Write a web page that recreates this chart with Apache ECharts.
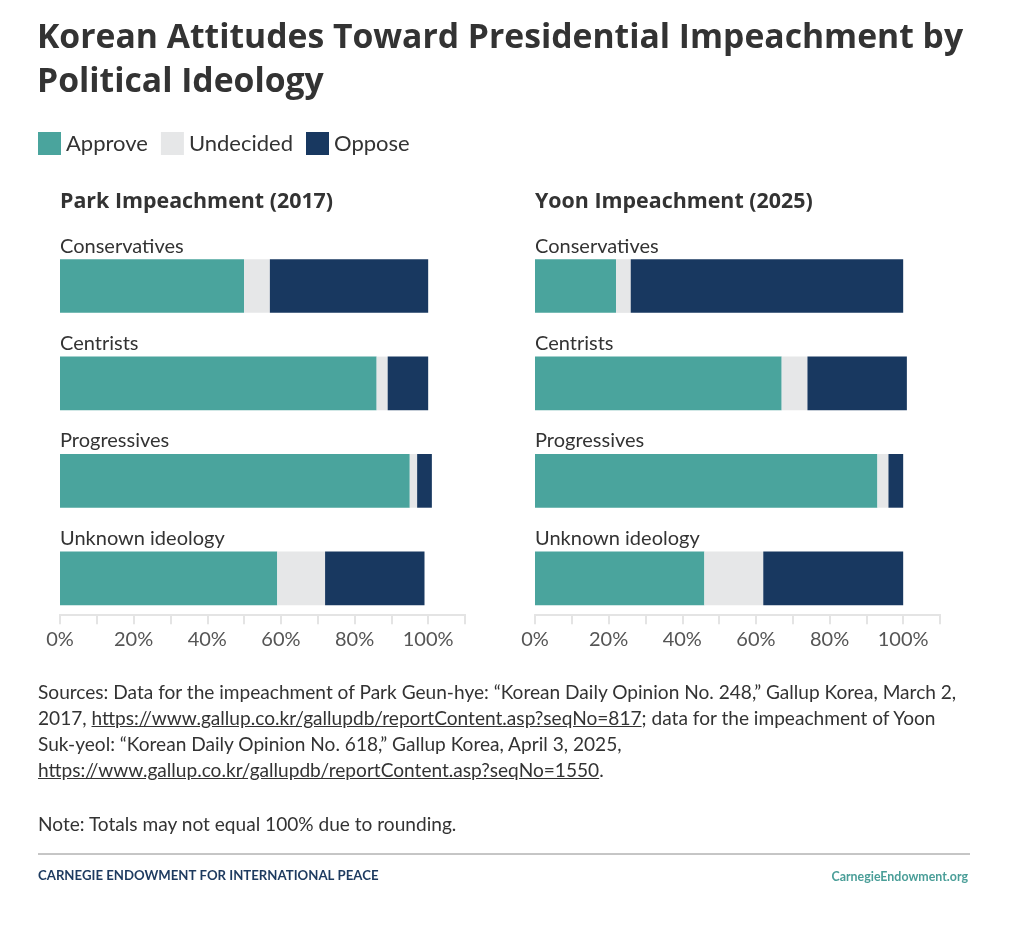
<!DOCTYPE html>
<html>
<head>
<meta charset="utf-8">
<script src="https://cdn.jsdelivr.net/npm/echarts@6/dist/echarts.min.js"></script>
<style>
  html, body { margin: 0; padding: 0; background: #fff; }
  #wrap { position: relative; width: 1022px; height: 926px; }
  #chart { position: absolute; left: 0; top: 0; width: 1022px; height: 926px; }
  #sources { position: absolute; left: 38px; top: 679px; width: 975px; font-family: Lato, "Noto Sans", sans-serif; font-size: 19.1px; line-height: 26px; color: #333; white-space: nowrap; }
  #sources a { color: #333; text-decoration: underline; }
  #sources p { margin: 0; }
</style>
</head>
<body>
<div id="wrap">
  <div id="chart"></div>
  <div id="sources">
    <p>Sources: Data for the impeachment of Park Geun-hye: “Korean Daily Opinion No. 248,” Gallup Korea, March 2,<br>2017, <a>https://www.gallup.co.kr/gallupdb/reportContent.asp?seqNo=817</a>; data for the impeachment of Yoon<br>Suk-yeol: “Korean Daily Opinion No. 618,” Gallup Korea, April 3, 2025,<br><a>https://www.gallup.co.kr/gallupdb/reportContent.asp?seqNo=1550</a>.</p>
    <p style="margin-top:28px">Note: Totals may not equal 100% due to rounding.</p>
  </div>
</div>
<script>
const categories = ['Conservatives', 'Centrists', 'Progressives', 'Unknown ideology'];
const seriesNames = ['Approve', 'Undecided', 'Oppose'];
const panelTitles = ['Park Impeachment (2017)', 'Yoon Impeachment (2025)'];
const parkApprove = [50, 86, 95, 59];
const parkUndecided = [7, 3, 2, 13];
const parkOppose = [43, 11, 4, 27];
const yoonApprove = [22, 67, 93, 46];
const yoonUndecided = [4, 7, 3, 16];
const yoonOppose = [74, 27, 4, 38];
const tickLabels = [0, 20, 40, 60, 80, 100];

const colors = { Approve: '#4aa49d', Undecided: '#e6e7e8', Oppose: '#183860' };
const FONT = 'Lato, "Noto Sans", sans-serif';
const BOLDFONT = '"Open Sans", Lato, sans-serif';

const chart = echarts.init(document.getElementById('chart'));

const grids = [
  { left: 60, width: 405, top: 237.3, height: 389.7 },
  { left: 535, width: 405, top: 237.3, height: 389.7 }
];

function xAxis(i) {
  return {
    type: 'value', gridIndex: i, min: 0, max: 110, interval: 10, offset: -12.7,
    axisLine: { show: true, lineStyle: { color: '#e4e4e4', width: 2 } },
    axisTick: { show: true, length: 10, lineStyle: { color: '#e4e4e4', width: 2 } },
    splitLine: { show: false },
    axisLabel: {
      color: '#555', fontSize: 20, fontFamily: FONT, margin: 15,
      formatter: v => tickLabels.indexOf(v) >= 0 ? v + '%' : ''
    }
  };
}
function yAxis(i) {
  return {
    type: 'category', gridIndex: i, data: categories, inverse: true,
    axisLine: { show: false }, axisTick: { show: false }, axisLabel: { show: false }
  };
}

const panelData = [
  [parkApprove, parkUndecided, parkOppose],
  [yoonApprove, yoonUndecided, yoonOppose]
];
const series = [];
panelData.forEach((arrs, p) => {
  arrs.forEach((arr, k) => {
    const name = seriesNames[k];
    const s = {
      type: 'bar', name: name, xAxisIndex: p, yAxisIndex: p, stack: 'p' + p,
      data: arr, barWidth: 53.7, itemStyle: { color: colors[name] },
      emphasis: { disabled: true }, animation: false
    };
    if (k === 0) {
      s.label = {
        show: true, position: [0, -3], align: 'left', verticalAlign: 'bottom',
        formatter: '{b}', color: '#333', fontSize: 20, fontFamily: FONT
      };
    }
    series.push(s);
  });
});

chart.setOption({
  animation: false,
  textStyle: { fontFamily: FONT },
  grid: grids,
  xAxis: [xAxis(0), xAxis(1)],
  yAxis: [yAxis(0), yAxis(1)],
  legend: {
    data: seriesNames, left: 33, top: 127, itemWidth: 23, itemHeight: 23, itemGap: 13,
    icon: 'rect', selectedMode: false,
    textStyle: { fontSize: 22, color: '#333', fontFamily: FONT, padding: [0, 0, 0, 0] }
  },
  title: [
    { text: 'Korean Attitudes Toward Presidential Impeachment by\nPolitical Ideology', left: 37, top: 16, padding: 0,
      textStyle: { fontSize: 33.7, fontWeight: 'bold', color: '#333', lineHeight: 44, fontFamily: BOLDFONT } },
    { text: panelTitles[0], left: 60, top: 191, padding: 0, textStyle: { fontSize: 21.4, fontWeight: 'bold', color: '#333', fontFamily: BOLDFONT } },
    { text: panelTitles[1], left: 535, top: 191, padding: 0, textStyle: { fontSize: 21.4, fontWeight: 'bold', color: '#333', fontFamily: BOLDFONT } }
  ],
  graphic: [
    { type: 'line', shape: { x1: 38, y1: 854, x2: 970, y2: 854 }, style: { stroke: '#8c8c8c', lineWidth: 1 } },
    { type: 'text', left: 38, top: 869, style: { text: 'CARNEGIE ENDOWMENT FOR INTERNATIONAL PEACE', fontSize: 13.2, fontWeight: 'bold', fill: '#1d3a5f', fontFamily: FONT } },
    { type: 'text', right: 54, top: 871, style: { text: 'CarnegieEndowment.org', fontSize: 12.4, fontWeight: 'bold', fill: '#4a9e98', fontFamily: FONT } }
  ],
  series: series
});
</script>
</body>
</html>
